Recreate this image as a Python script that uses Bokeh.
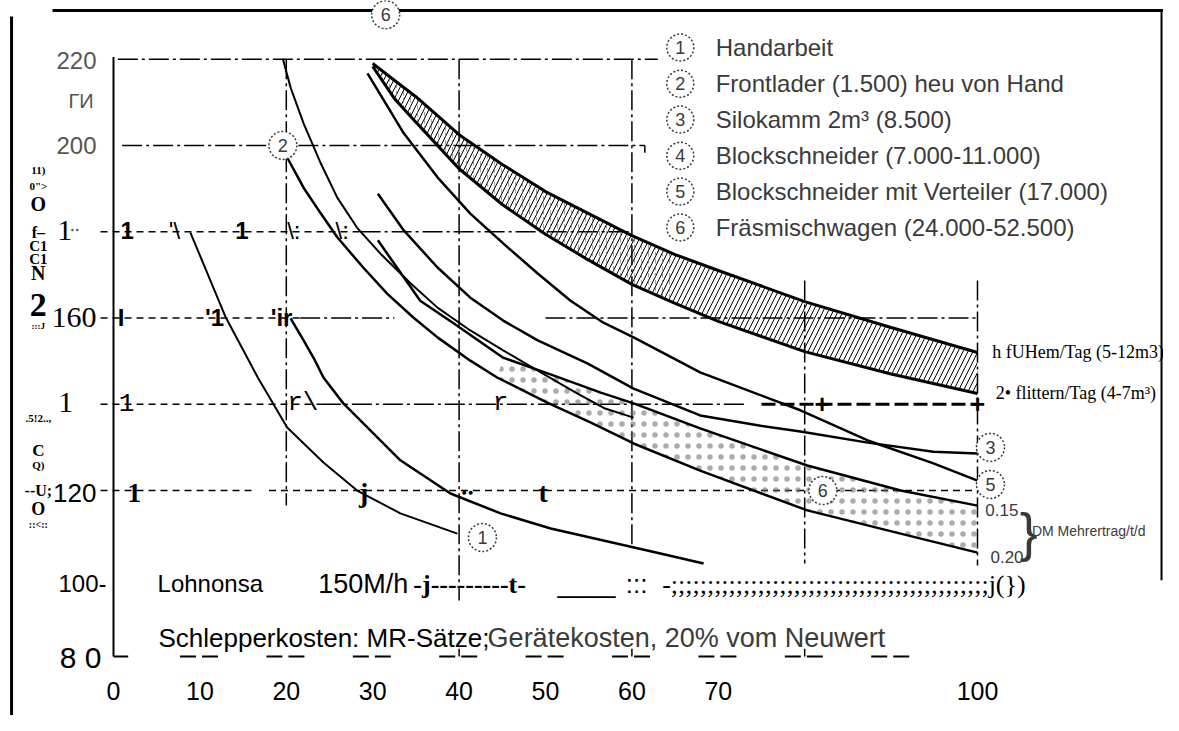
from bokeh.plotting import figure
from bokeh.models import Range1d
from bokeh.core.properties import value
from bokeh.embed import file_html
from bokeh.resources import INLINE

# ---------------- data ----------------
x_ticks = [0, 10, 20, 30, 40, 50, 60, 70, 100]
x_tick_labels = ["0", "10", "20", "30", "40", "50", "60", "70", "100"]

# curve 1: Handarbeit
c1_x = [8.9, 13.0, 16.7, 20.1, 24.3, 28.2, 33.2, 39.8]
c1_y = [179.8, 160.1, 146.2, 134.6, 126.5, 120.0, 114.7, 110.0]

# lowest long curve (ends near 68)
cl_x = [20.5, 22.0, 23.2, 24.3, 26.6, 33.2, 39.0, 44.8, 50.6, 63.3, 68.3]
cl_y = [159.9, 154.8, 150.6, 146.2, 140.2, 127.0, 119.3, 114.7, 111.2, 105.4, 103.1]

# steep curve starting at 220 (ends at 60)
c2a_x = [19.6, 20.5, 22.0, 24.0, 25.9, 28.2, 30.9, 34.4, 37.5, 41.3, 45.1, 49.1, 53.5, 56.9, 60.2]
c2a_y = [220.1, 213.4, 205.1, 195.8, 187.9, 180.9, 174.9, 168.0, 162.4, 157.1, 152.5, 147.8, 142.7, 139.0, 136.9]

# curve 2 (below circle 2) -> 0.20
c2_x = [20.1, 22.0, 24.0, 25.9, 28.9, 31.7, 34.7, 37.5, 41.3, 44.4, 50.2, 55.2, 60.2, 67.9, 80.3, 91.1, 100]
c2_y = [197.2, 190.2, 184.2, 178.7, 171.7, 165.6, 160.1, 155.5, 150.1, 146.2, 140.4, 135.8, 130.9, 124.6, 115.4, 110.0, 105.6]

# curve 3 (Silokamm)
c3_x = [30.6, 33.6, 37.5, 41.3, 45.1, 49.1, 54.9, 60.2, 67.9, 74.9, 79.5, 87.3, 94.9, 100]
c3_y = [188.8, 180.3, 171.7, 164.7, 159.4, 154.8, 149.4, 143.6, 137.4, 135.0, 133.7, 131.1, 129.0, 128.6]

# curve 4 (Blockschneider) -> 0.15
c4_x = [30.6, 35.5, 39.4, 45.1, 50.9, 56.4, 60.2, 67.9, 80.3, 91.1, 100]
c4_y = [178.0, 164.0, 158.7, 150.8, 146.7, 142.7, 140.2, 134.4, 125.8, 120.0, 116.5]

# curve 5 (Blockschneider mit Verteiler)
c5_x = [29.4, 33.6, 37.5, 41.3, 45.1, 49.1, 52.9, 56.7, 60.2, 67.9, 79.5, 87.3, 94.9, 100]
c5_y = [216.7, 202.8, 192.6, 184.2, 177.3, 170.3, 164.0, 158.9, 155.5, 147.4, 138.6, 131.6, 126.3, 122.3]

# band 6 (Fraesmischwagen): 1 Fuellung/Tag (top), 2 Fuellungen/Tag (bottom)
band_x = [30, 32.5, 35, 40, 45, 50, 55, 60, 65, 70, 80, 90, 100]
band_top = [219.0, 215.1, 211.3, 202.5, 195.6, 189.3, 184.2, 179.1, 174.7, 171.0, 163.8, 157.8, 152.0]
band_bot = [218.3, 210.9, 205.4, 194.6, 186.3, 179.4, 173.4, 167.8, 163.4, 159.2, 152.2, 147.0, 142.5]

legend_nums = ["1", "2", "3", "4", "5", "6"]
legend_labels = ["Handarbeit",
                 "Frontlader (1.500) heu von Hand",
                 "Silokamm 2m\u00b3 (8.500)",
                 "Blockschneider (7.000-11.000)",
                 "Blockschneider mit Verteiler (17.000)",
                 "Fr\u00e4smischwagen (24.000-52.500)"]

# ---------------- figure ----------------
p = figure(width=1163, height=715, x_range=Range1d(-13.079, 121.528),
           y_range=Range1d(67.84, 233.60), toolbar_location=None,
           output_backend="svg", x_axis_type=None, y_axis_type=None, min_border=0)
p.outline_line_color = None
p.background_fill_color = "white"
p.border_fill_color = "white"

SANS = value("Liberation Sans")
SERIF = value("Liberation Serif")
MONO = value("Liberation Mono")
DOT = "#3a3a3a"

# page border lines
p.line([-11.8, -11.8], [229.9, 67.84], line_color="black", line_width=3)
p.line([-7.06, 121.6], [231.3, 231.3], line_color="black", line_width=3)
p.line([121.3, 121.3], [231.3, 99.2], line_color="black", line_width=2)

# inner y axis line
p.line([0, 0], [81.5, 220.5], line_color="black", line_width=2)

# x axis dashed baseline
p.line([0, 1.7], [81.5, 81.5], line_color="black", line_width=2)
p.multi_line([[t - 2.3, t + 2.3] for t in range(10, 100, 10)],
             [[81.5, 81.5]] * 9, line_color="black", line_width=2, line_dash="16 6")
p.multi_line([[t, t] for t in (40, 60, 80)], [[81.5, 83.3]] * 3,
             line_color="black", line_width=1.5)

# grid (dash-dot)
DD = "20 4 3 4"
vgrid = [(20, 220, 116.5), (40, 220, 94.5), (60, 220, 107.0), (80, 168.7, 103.1), (100, 168.7, 102.6)]
for gx, y0, y1 in vgrid:
    p.line([gx, gx], [y0, y1], line_color="black", line_width=1.5, line_dash=DD)
hgrid = [(220, 0.5, 63), (200, 1, 17.8), (200, 21.4, 61.5), (180, 28.6, 60),
         (160, 21.6, 32.5), (160, 50, 100), (140, 24, 73)]
for gy, x0, x1 in hgrid:
    p.line([x0, x1], [gy, gy], line_color="black", line_width=1.5, line_dash=DD)
p.line([61.5, 61.5], [200, 198.3], line_color="black", line_width=1.5)
# OCR-like dashed segments on grid rows
for gy, x0, x1 in [(180, -1.5, 28.6), (160, -1.5, 21.6), (140, -1.5, 24), (120, -1.5, 16), (120, 18, 100)]:
    p.line([x0, x1], [gy, gy], line_color="black", line_width=1.5, line_dash="7 5")
p.line([75, 100], [140, 140], line_color="black", line_width=3, line_dash="14 5")
p.text(x=[82, 100], y=[140, 140], text=["+", "+"], text_font=SANS, text_font_size="26px",
       text_align="center", text_baseline="middle", text_font_style="bold")

# OCR characters along the grid rows
p.text(x=[0.8, 14.1], y=[180.3, 180.3], text=["1", "1"], text_font=SANS, text_font_size="24px",
       text_font_style="bold", text_align="left", text_baseline="middle")
p.text(x=[6.4, 20.1, 25.7], y=[180.3] * 3, text=["'\\", "\\:", "\\:"], text_font=SANS,
       text_font_size="24px", text_align="left", text_baseline="middle")
p.text(x=[0.5, 10.6, 18.2], y=[160.1] * 3, text=["I", "'1", "'ir"], text_font=SANS,
       text_font_size="24px", text_font_style="bold", text_align="left", text_baseline="middle")
p.text(x=[0.6, 20.1, 43.9], y=[140.4] * 3, text=["1", "r\\", "r"], text_font=MONO,
       text_font_size="26px", text_align="left", text_baseline="middle")
p.text(x=[1.6, 28.4, 49.2], y=[119.5] * 3, text=["1", "j", "t"], text_font=SERIF,
       text_font_size="28px", text_font_style="bold", text_align="left", text_baseline="middle")
p.text(x=[40.2], y=[121.0], text=["\u2025"], text_font=SERIF, text_font_size="24px",
       text_font_style="bold", text_align="left", text_baseline="middle")

# hatched band and stippled areas
p.varea(x=band_x, y1=band_bot, y2=band_top, fill_alpha=0, hatch_pattern="/",
        hatch_color="black", hatch_scale=10, hatch_weight=1.0)
p.varea(x=band_x[:9], y1=band_bot[:9], y2=band_top[:9], fill_alpha=0, hatch_pattern=":",
        hatch_color="#666", hatch_scale=7, hatch_weight=1.0, hatch_alpha=0.6)
st_x = [x for x in c4_x if x >= 45] + [x for x in c2_x if x >= 44][::-1]
st_y = [y for x, y in zip(c4_x, c4_y) if x >= 45] + [y for x, y in zip(c2_x, c2_y) if x >= 44][::-1]
p.patch(st_x, st_y, fill_alpha=0, line_alpha=0, hatch_pattern=".", hatch_color="#666",
        hatch_scale=11, hatch_weight=1.0, hatch_alpha=0.55)

# curves
p.line(c1_x, c1_y, line_color="black", line_width=2)
p.line(cl_x, cl_y, line_color="black", line_width=2.5)
p.line(c2a_x, c2a_y, line_color="black", line_width=2)
p.line(c2_x, c2_y, line_color="black", line_width=2.5)
p.line(c3_x, c3_y, line_color="black", line_width=2.5)
p.line(c4_x, c4_y, line_color="black", line_width=2.5)
p.line(c5_x, c5_y, line_color="black", line_width=2.5)
p.line(band_x, band_top, line_color="black", line_width=3)
p.line(band_x, band_bot, line_color="black", line_width=3)

# dashed circle labels on the chart
cx = [31.5, 19.6, 42.7, 101.5, 101.5, 82.1]
cy = [230.3, 200.0, 109.1, 130.0, 121.4, 120.0]
ct = ["6", "2", "1", "3", "5", "6"]
p.scatter(cx, cy, marker="circle", size=28, fill_color="white", line_color=DOT,
          line_dash="2 2", line_width=1.5)
p.text(x=cx, y=cy, text=ct, text_font=SANS, text_font_size="18px", text_color=DOT,
       text_align="center", text_baseline="middle")

# legend
leg_y = [222.7, 214.3, 206.0, 197.6, 189.3, 181.0]
p.scatter([65.6] * 6, leg_y, marker="circle", size=27, fill_color=None, line_color=DOT,
          line_dash="2 2", line_width=1.5)
p.text(x=[65.6] * 6, y=leg_y, text=legend_nums, text_font=SANS, text_font_size="18px",
       text_color=DOT, text_align="center", text_baseline="middle")
p.text(x=[69.7] * 6, y=leg_y, text=legend_labels, text_font=SANS, text_font_size="24px",
       text_color=DOT, text_align="left", text_baseline="middle")

# right side labels
p.text(x=[101.7, 102.1], y=[152.0, 142.7],
       text=["h  fUHem/Tag  (5-12m3)", "2\u2022  flittern/Tag  (4-7m\u00b3)"],
       text_font=SERIF, text_font_size="18px", text_align="left", text_baseline="middle")
p.text(x=[100.9, 101.5], y=[115.4, 104.7], text=["0.15", "0.20"], text_font=SANS,
       text_font_size="17px", text_color=DOT, text_align="left", text_baseline="middle")
p.text(x=[104.9], y=[110.3], text=["}"], text_font=SANS, text_font_size="54px",
       text_color=DOT, text_align="left", text_baseline="middle")
p.text(x=[106.3], y=[110.5], text=["DM Mehrertrag/t/d"], text_font=SANS,
       text_font_size="14px", text_color=DOT, text_align="left", text_baseline="middle")

# y tick labels
p.text(x=[-1.97, -1.97], y=[219.7, 200.0], text=["220", "200"], text_font=SANS,
       text_font_size="24px", text_color="#555", text_align="right", text_baseline="middle")
p.text(x=[-2.3], y=[210.4], text=["\u0413\u0418"], text_font=SANS, text_font_size="20px",
       text_color="#555", text_align="right", text_baseline="middle")
p.text(x=[-6.5, -6.4], y=[180.3, 140.4], text=["1", "1"], text_font=SERIF,
       text_font_size="30px", text_align="left", text_baseline="middle")
p.text(x=[-5.0], y=[181.6], text=["\u2025"], text_font=SERIF, text_font_size="18px",
       text_color="#555", text_align="left", text_baseline="middle")
p.text(x=[-1.97], y=[160.1], text=["160"], text_font=SERIF, text_font_size="30px",
       text_align="right", text_baseline="middle")
p.text(x=[-1.97], y=[119.5], text=["120"], text_font=SANS, text_font_size="26px",
       text_align="right", text_baseline="middle")
p.text(x=[-0.81], y=[98.4], text=["100-"], text_font=SANS, text_font_size="24px",
       text_align="right", text_baseline="middle")
p.text(x=[-1.39], y=[81.3], text=["8 0"], text_font=SANS, text_font_size="30px",
       text_align="right", text_baseline="middle")

# rotated-axis OCR fragments
side_y = [194.2, 190.7, 186.5, 179.8, 176.6, 173.6, 170.5, 163.1, 158.2,
          136.9, 129.3, 126.0, 120.0, 115.8, 112.1]
side_t = ["11)", "0\">", "O", "f\u2013", "C1", "C1", "N", "2", ":::J",
          ".5!2..,", "C", "Q)", "--U;", "O", "::<::"]
side_s = ["11px", "11px", "20px", "16px", "15px", "15px", "20px", "34px", "9px",
          "11px", "17px", "11px", "16px", "18px", "10px"]
for yy, tt, ss in zip(side_y, side_t, side_s):
    p.text(x=[-8.7], y=[yy], text=[tt], text_font=SERIF, text_font_size=ss,
           text_font_style="bold", text_align="center", text_baseline="middle")

# bottom text rows
p.text(x=[5.1], y=[98.4], text=["Lohnonsa"], text_font=SANS,
       text_font_size="24px", text_align="left", text_baseline="middle")
p.text(x=[23.7], y=[98.4], text=["150M/h"], text_font=SANS,
       text_font_size="27px", text_align="left", text_baseline="middle")
p.text(x=[34.7], y=[98.2], text=["-j---------t-"], text_font=SERIF, text_font_size="26px",
       text_font_style="bold", text_align="left", text_baseline="middle")
p.text(x=[51.4, 59.3], y=[98.4, 98.4], text=["____", ":::"], text_font=SANS,
       text_font_size="26px", text_align="left", text_baseline="middle")
p.text(x=[63.5], y=[98.2], text=["-" + ";" * 44 + "j(})"], text_font=SERIF,
       text_font_size="26px", text_align="left", text_baseline="middle")
p.text(x=[5.2], y=[85.9], text=["Schlepperkosten:  MR-S\u00e4tze;"], text_font=SANS,
       text_font_size="26px", text_align="left", text_baseline="middle")
p.text(x=[43.3], y=[85.9], text=["Ger\u00e4tekosten,  20%  vom  Neuwert"], text_font=SANS,
       text_font_size="27px", text_color=DOT, text_align="left", text_baseline="middle")

# x tick labels
p.text(x=x_ticks, y=[73.6] * len(x_ticks), text=x_tick_labels, text_font=SANS,
       text_font_size="25px", text_align="center", text_baseline="middle")

open("out.html", "w", encoding="utf-8").write(file_html(p, INLINE))
